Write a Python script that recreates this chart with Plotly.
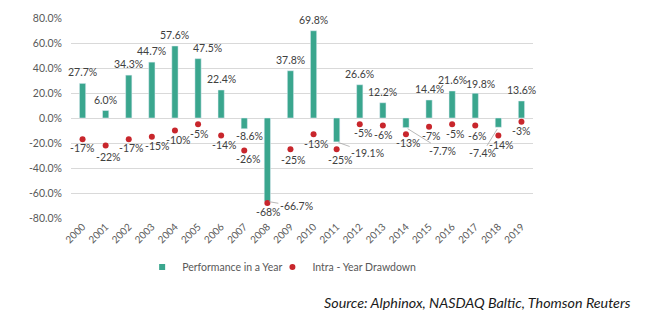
import plotly.graph_objects as go

# Annual performance vs. intra-year drawdown
years = [str(y) for y in range(2000, 2020)]
performance = [27.7, 6.0, 34.3, 44.7, 57.6, 47.5, 22.4, -8.6, -66.7, 37.8,
               69.8, -19.1, 26.6, 12.2, -7.7, 14.4, 21.6, 19.8, -7.4, 13.6]
drawdown = [-17, -22, -17, -15, -10, -5, -14, -26, -68, -25,
            -13, -25, -5, -6, -13, -7, -5, -6, -14, -3]
y_ticks = [80, 60, 40, 20, 0, -20, -40, -60, -80]

GREEN = "#3aa68e"
RED = "#c8262c"
TEXT = "#404040"
FONT = "Lato"
FS = 10.5

pos = list(range(len(years)))

# pixel offsets for drawdown labels (dx, dy; dy positive = down)
dd_offsets = [(0, 9), (3, 11), (3, 9), (6, 9), (4, 9), (1, 10), (3, 9), (4, 8),
              (1, 9), (3, 11), (3, 10), (4, 11), (3, 9), (0, 9), (3, 9), (2, 9),
              (3, 10), (2, 10), (3, 9), (0, 9)]
# pixel offsets for performance labels
perf_offsets = {5: (9, -11), 17: (5, -9), 7: (5, 7)}
# labels tied to their bar with a leader line
leader_offsets = {8: (29, 5), 11: (31, 11), 14: (37, 23), 18: (-16, 26)}

fig = go.Figure()
fig.add_trace(go.Bar(x=pos, y=performance, marker_color=GREEN, width=0.27,
                     showlegend=False, name="Performance in a Year"))
# legend entry for the bars
fig.add_trace(go.Scatter(x=[pos[0]], y=[None], mode="markers", name="Performance in a Year",
                         marker=dict(symbol="square", size=6, color=GREEN), legend="legend"))
fig.add_trace(go.Scatter(x=pos, y=drawdown, mode="markers", name="Intra - Year Drawdown",
                         marker=dict(size=6, color=RED), cliponaxis=False, legend="legend2"))

annotations = []
for i, v in enumerate(performance):
    label = f"{v:.1f}%"
    if i in leader_offsets:
        ax, ay = leader_offsets[i]
        annotations.append(dict(x=pos[i], y=v, text=label, showarrow=True, arrowhead=0,
                                arrowwidth=0.8, arrowcolor="#a6a6a6", ax=ax, ay=ay,
                                standoff=2, font=dict(family=FONT, size=FS, color=TEXT)))
    else:
        dx, dy = perf_offsets.get(i, (0, -11))
        annotations.append(dict(x=pos[i], y=v, text=label, showarrow=False,
                                xshift=dx, yshift=-dy,
                                font=dict(family=FONT, size=FS, color=TEXT)))

for i, (v, (dx, dy)) in enumerate(zip(drawdown, dd_offsets)):
    annotations.append(dict(x=pos[i], y=v, text=f"{v}%", showarrow=False,
                            xshift=dx, yshift=-dy,
                            font=dict(family=FONT, size=FS, color=TEXT)))

annotations.append(dict(xref="paper", yref="paper", x=1.216, y=-0.42,
                        xanchor="right", yanchor="middle", showarrow=False,
                        text="Source: Alphinox, NASDAQ Baltic, Thomson Reuters",
                        font=dict(family=FONT, size=14.3, color="#1a1a1a", style="italic")))

legend_style = dict(orientation="h", xanchor="left", y=-0.245, yanchor="middle",
                    font=dict(family=FONT, size=10.5, color="#595959"),
                    itemwidth=30, bgcolor="rgba(0,0,0,0)")

fig.update_layout(
    width=650, height=323,
    margin=dict(l=71, r=117, t=18, b=105),
    paper_bgcolor="white", plot_bgcolor="white",
    font=dict(family=FONT, size=FS, color="#595959"),
    annotations=annotations,
    legend=dict(x=0.154, **legend_style),
    legend2=dict(x=0.436, **legend_style),
)
fig.update_xaxes(range=[-0.5, len(years) - 0.5], tickvals=pos, ticktext=years,
                 tickangle=-45, showgrid=False, showline=False, zeroline=False,
                 ticks="", tickfont=dict(family=FONT, size=10, color="#595959"))
fig.update_yaxes(range=[-80, 80], tickvals=y_ticks,
                 ticktext=[f"{t:.1f}%" for t in y_ticks],
                 showgrid=True, gridcolor="#d9d9d9", gridwidth=1,
                 zeroline=True, zerolinecolor="#d9d9d9", zerolinewidth=1,
                 showline=False, ticks="", ticklabelstandoff=8,
                 tickfont=dict(family=FONT, size=FS, color="#595959"))

fig.write_html("out.html")
